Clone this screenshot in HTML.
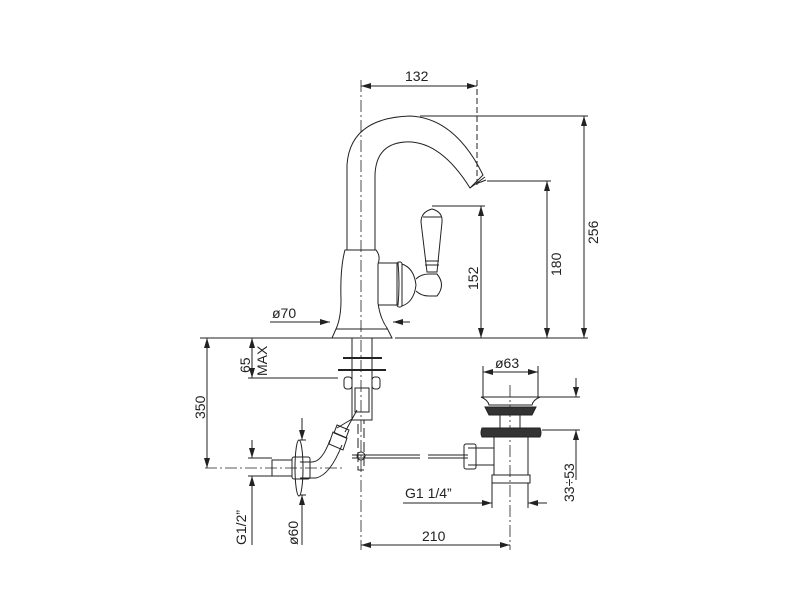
<!DOCTYPE html><html><head><style>body{margin:0;background:#fff}svg{display:block}text{font-family:"Liberation Sans",sans-serif;font-size:14px;fill:#222}</style></head><body>
<svg width="800" height="600" viewBox="0 0 800 600" fill="none" stroke="#222" stroke-width="1">
<defs><marker id="a" viewBox="0 0 10 6" refX="10" refY="3" markerWidth="10" markerHeight="6" orient="auto-start-reverse"><path d="M0,0L10,3L0,6z" fill="#222" stroke="none"/></marker></defs>
<g stroke-dasharray="12,3,2,3" stroke-width="0.8">
<line x1="361" y1="80" x2="361" y2="550"/><line x1="510" y1="385" x2="510" y2="550"/>
<line x1="205" y1="468" x2="345" y2="468"/></g>
<line x1="477" y1="80" x2="477" y2="185" stroke-dasharray="6,3"/>
<line x1="361" y1="86" x2="477" y2="86" marker-start="url(#a)" marker-end="url(#a)"/><text x="405" y="81" stroke="none">132</text>
<line x1="420" y1="116" x2="588" y2="116"/><line x1="584" y1="116" x2="584" y2="338" marker-start="url(#a)" marker-end="url(#a)"/>
<text transform="translate(598,244) rotate(-90)" stroke="none">256</text>
<line x1="487" y1="181" x2="551" y2="181"/><line x1="547" y1="181" x2="547" y2="338" marker-start="url(#a)" marker-end="url(#a)"/>
<text transform="translate(561,276) rotate(-90)" stroke="none">180</text>
<line x1="432" y1="206" x2="485" y2="206"/><line x1="481" y1="206" x2="481" y2="338" marker-start="url(#a)" marker-end="url(#a)"/>
<text transform="translate(478,290) rotate(-90)" stroke="none">152</text>
<line x1="395" y1="338" x2="588" y2="338"/><line x1="200" y1="338" x2="332" y2="338"/>
<line x1="270" y1="322" x2="330" y2="322" marker-end="url(#a)"/><line x1="410" y1="322" x2="393" y2="322" marker-end="url(#a)"/><text x="272" y="318" stroke="none">ø70</text>
<line x1="248" y1="378" x2="338" y2="378"/><line x1="252" y1="338" x2="252" y2="378" marker-start="url(#a)" marker-end="url(#a)"/>
<text transform="translate(250,373) rotate(-90)" stroke="none">65</text><text transform="translate(267,376) rotate(-90)" stroke="none" font-size="13">MAX</text>
<line x1="207" y1="338" x2="207" y2="468" marker-start="url(#a)" marker-end="url(#a)"/><text transform="translate(205,419) rotate(-90)" stroke="none">350</text>
<line x1="248" y1="458" x2="272" y2="458"/><line x1="248" y1="476" x2="272" y2="476"/>
<line x1="252" y1="440" x2="252" y2="458" marker-end="url(#a)"/><line x1="252" y1="545" x2="252" y2="476" marker-end="url(#a)"/>
<text transform="translate(246,545) rotate(-90)" stroke="none">G1/2”</text>
<line x1="300" y1="440" x2="306" y2="440"/><line x1="300" y1="495" x2="306" y2="495"/>
<line x1="302" y1="418" x2="302" y2="440" marker-end="url(#a)"/><line x1="302" y1="545" x2="302" y2="495" marker-end="url(#a)"/>
<text transform="translate(298,545) rotate(-90)" stroke="none">ø60</text>
<line x1="483" y1="366" x2="483" y2="398"/><line x1="538" y1="366" x2="538" y2="398"/>
<line x1="483" y1="372" x2="538" y2="372" marker-start="url(#a)" marker-end="url(#a)"/><text x="495" y="368" stroke="none">ø63</text>
<line x1="540" y1="397" x2="580" y2="397"/><line x1="542" y1="430" x2="580" y2="430"/>
<line x1="576" y1="378" x2="576" y2="397" marker-end="url(#a)"/><line x1="576" y1="480" x2="576" y2="430" marker-end="url(#a)"/>
<text transform="translate(574,502) rotate(-90)" stroke="none">33÷53</text>
<line x1="492" y1="483" x2="492" y2="508"/><line x1="528" y1="483" x2="528" y2="508"/>
<line x1="403" y1="503" x2="492" y2="503" marker-end="url(#a)"/><line x1="547" y1="503" x2="528" y2="503" marker-end="url(#a)"/>
<text x="405" y="498" stroke="none">G1  1/4”</text>
<line x1="361" y1="545" x2="510" y2="545" marker-start="url(#a)" marker-end="url(#a)"/><text x="422" y="541" stroke="none">210</text>
<path d="M347,250 L347,165 Q350,118 410,116 Q455,118 483,175 L470,188 Q440,140 405,142 Q376,144 375,175 L375,250"/>
<path d="M470,188 L485,177 M473,185 L486,180"/>
<path d="M345,250 L376,250 Q381,256 378,264 L378,303 Q380,318 387,328 L392,338 L332,338 L336,329 Q341,318 341,300 Q340,268 345,250Z"/>
<line x1="336" y1="329" x2="388" y2="329"/>
<path d="M378,263 L398,263 Q400,284 398,305 L378,305"/>
<rect x="397" y="262" width="5" height="45" rx="2"/>
<path d="M402,264 Q414,268 416,285 Q414,302 402,306"/>
<path d="M416,279 Q421,274 429,274 L437,274 Q446,285 437,296 L429,296 Q421,296 416,291"/>
<path d="M427,272 L421,222 Q421,212 432,209 Q443,212 442,222 L437,272Z"/>
<path d="M425,261 L439,261 M425,265 L439,265 M423,217 L441,217"/>
<rect x="352" y="338" width="20" height="82"/>
<line x1="343" y1="358" x2="382" y2="358" stroke-width="2"/><line x1="338" y1="370" x2="386" y2="370" stroke-width="2"/>
<rect x="344" y="377" width="8" height="12" rx="3"/><rect x="372" y="377" width="8" height="12" rx="3"/>
<rect x="355" y="388" width="14" height="24"/>
<path d="M357,410 L345,432 M352,419 L337,428"/>
<path d="M342,445 Q330,475 316,478 L300,478 M330,440 Q322,462 312,462 L300,462"/>
<path d="M333,432 l14,6 l-4,12 l-14,-6z"/><path d="M337,425 l12,5 l-3,8 l-12,-5z"/>
<rect x="272" y="460" width="20" height="16"/><rect x="292" y="457" width="18" height="22" rx="2"/>
<ellipse cx="299" cy="468" rx="4" ry="28"/>
<rect x="358" y="420" width="6" height="50" stroke-dasharray="10,4"/>
<line x1="352" y1="455" x2="420" y2="455"/><line x1="352" y1="458" x2="420" y2="458"/>
<line x1="428" y1="455" x2="468" y2="455"/><line x1="428" y1="458" x2="468" y2="458"/>
<circle cx="361" cy="456" r="4"/>
<path d="M481,397 L540,397 Q533,400 532,405 L489,405 Q488,400 481,397Z"/>
<path d="M485,407 L536,407 L532,415 L489,415Z" fill="#333"/>
<rect x="500" y="415" width="20" height="13"/>
<path d="M482,428 L540,428 Q542,433 540,437 L482,437 Q480,433 482,428Z" fill="#333"/>
<path d="M494,437 L494,475 M528,437 L528,475"/><rect x="492" y="475" width="38" height="8"/>
<path d="M468,448 L494,448 M468,465 L494,465"/><rect x="464" y="444" width="12" height="25" rx="2"/>
</svg></body></html>
